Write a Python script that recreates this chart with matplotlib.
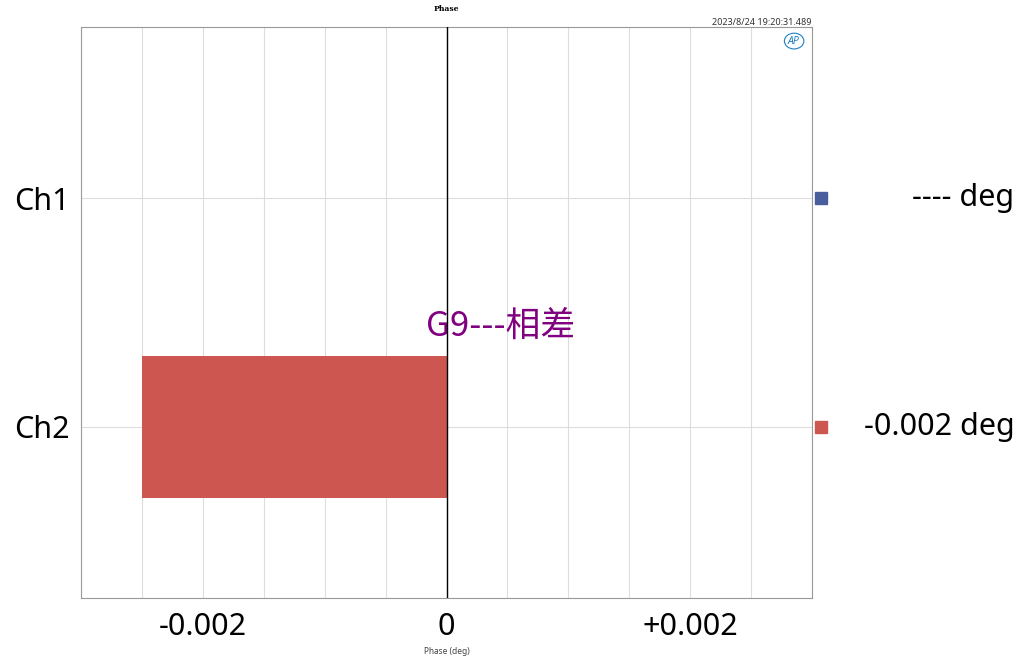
import numpy as np
import matplotlib.pyplot as plt
from matplotlib.ticker import MultipleLocator
from matplotlib.patches import Ellipse

# data
channels = ["Ch1", "Ch2"]
phase = [np.nan, -0.0025]
readouts = ["---- deg", "-0.002 deg"]
colors = ["#4A5E9E", "#CD5650"]
xticks = [-0.002, 0, 0.002]
xticklabels = ["-0.002", "0", "+0.002"]

plt.rcParams["font.family"] = ["Noto Sans", "DejaVu Sans"]

fig = plt.figure(figsize=(10.24, 6.57), dpi=100)
ax = fig.add_axes([0.0791, 0.0898, 0.7139, 0.8691])

ypos = np.arange(len(channels))
ax.barh(ypos, np.nan_to_num(phase), height=0.62, color=colors, zorder=3)
ax.axvline(0, color="black", lw=1, zorder=4)

ax.set_xlim(-0.003, 0.003)
ax.set_ylim(1.75, -0.75)
ax.set_xticks(xticks)
ax.set_xticklabels(xticklabels, fontsize=22)
ax.xaxis.set_minor_locator(MultipleLocator(0.0005))
ax.set_yticks(ypos)
ax.set_yticklabels(channels, fontsize=22)
ax.tick_params(length=0, which="both", pad=8)
ax.tick_params(axis="x", pad=10)
ax.grid(True, which="both", axis="x", color="#DDDDDD", lw=0.8, zorder=0)
ax.grid(True, which="major", axis="y", color="#DDDDDD", lw=0.8, zorder=0)
for s in ax.spines.values():
    s.set_color("#999999")

ax.set_xlabel("Phase (deg)", fontsize=6, color="#444444", labelpad=4)

# right-side readouts with colour squares
for y, txt, c in zip(ypos, readouts, colors):
    ax.plot([1.012], [y], marker="s", ms=9, color=c, transform=ax.get_yaxis_transform(), clip_on=False)
    ax.text(1.277, y, txt, transform=ax.get_yaxis_transform(), ha="right", va="center", fontsize=22)

fig.text(0.4355, 0.992, "Phase", ha="center", va="top", fontsize=5.5, family="DejaVu Serif", weight="bold")
fig.text(0.792, 0.972, "2023/8/24 19:20:31.489", ha="right", va="top", fontsize=6.5, color="#333333")

# AP logo
fig.text(0.7745, 0.9375, "AP", ha="center", va="center", fontsize=7.5,
         color="#1F7FC4", style="italic", weight="bold")
fig.patches.append(Ellipse((0.7755, 0.9375), 0.019, 0.024, transform=fig.transFigure,
                           fill=False, edgecolor="#1F7FC4", lw=0.8))

ax.text(-0.00017, 0.56, "G9---相差", fontsize=25, color="#800080", ha="left", va="center",
        family=["Noto Sans CJK SC", "DejaVu Sans"])

fig.savefig("out.png", dpi=100)
